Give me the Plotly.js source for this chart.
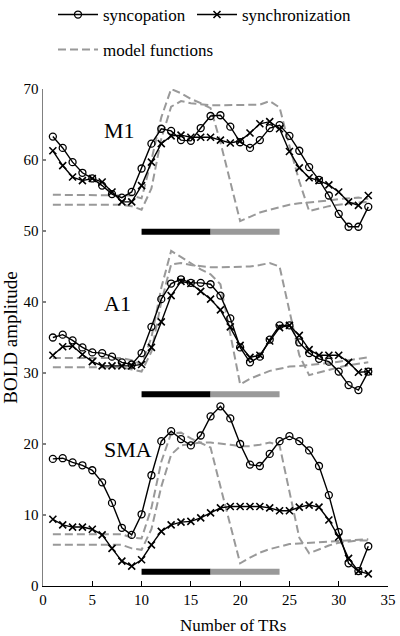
<!DOCTYPE html>
<html>
<head>
<meta charset="utf-8">
<script src="https://cdn.plot.ly/plotly-3.0.1.min.js"></script>
<style>
html,body{margin:0;padding:0;background:#fff;}
#chart{width:400px;height:636px;}
</style>
</head>
<body>
<div id="chart"></div>
<script>
// ---- data ----
const trs = [1,2,3,4,5,6,7,8,9,10,11,12,13,14,15,16,17,18,19,20,21,22,23,24,25,26,27,28,29,30,31,32,33];

const regionNames = ["M1", "A1", "SMA"];
const seriesNames = ["syncopation", "synchronization", "model functions"];
const blockEdges = [10, 17, 24];   // black block 10-17, gray block 17-24

const m1Syncopation = [63.3,61.7,59.7,58.2,57.4,56.4,55.2,54.7,55.5,58.8,62.3,64.4,64.1,62.8,62.7,64.5,66.2,66.3,64.7,62.5,61.7,62.8,64.5,64.9,63.4,61.3,59.0,57.2,55.0,52.4,50.6,50.6,53.4];
const m1Synchronization = [61.3,59.2,57.6,57.1,57.4,56.9,55.5,54.1,54.1,56.4,59.7,62.3,63.4,63.5,63.2,63.2,63.2,62.8,62.4,62.7,63.8,65.1,65.4,64.4,61.2,58.9,57.5,57.1,56.5,55.5,54.1,53.6,55.0];
const m1ModelFirstBlock = [55.1,55.1,55.1,55.1,55.1,55.1,55.1,55.1,55.0,54.6,60.0,66.0,70.0,69.4,68.6,68.0,67.3,62.5,57.0,51.4,52.0,52.6,53.0,53.4,53.7,53.9,54.0,54.2,54.3,54.5,54.6,54.7,54.5];
const m1ModelWholeBlock = [53.7,53.7,53.7,53.7,53.7,53.7,53.7,53.7,53.5,53.0,56.0,63.0,67.5,68.3,68.0,67.8,67.7,67.7,67.7,67.7,67.7,67.8,68.3,67.4,62.0,57.0,52.8,53.2,53.5,53.7,53.9,54.0,54.1];

const a1Syncopation = [35.0,35.4,34.6,33.6,32.9,32.8,32.3,31.5,31.2,32.8,36.5,40.4,42.6,43.2,42.7,42.7,42.5,40.9,37.7,33.6,31.5,32.3,34.7,36.7,36.7,34.3,32.8,32.0,31.6,30.2,28.3,27.6,30.2];
const a1Synchronization = [32.5,33.7,33.8,32.6,31.6,31.0,31.0,31.0,31.0,31.2,33.6,37.2,40.9,42.9,42.6,41.5,40.4,38.9,36.5,33.9,32.2,32.5,34.5,36.4,36.7,35.3,33.3,32.5,32.5,32.5,31.5,30.1,30.2];
const a1ModelFirstBlock = [32.1,32.1,32.1,32.1,32.1,32.1,32.1,32.1,31.8,31.2,35.0,42.0,47.2,46.3,45.4,44.6,43.9,42.5,35.5,28.4,29.2,29.8,30.3,30.6,30.9,31.0,31.1,31.2,31.4,31.6,31.8,32.0,32.2];
const a1ModelWholeBlock = [30.8,30.8,30.8,30.8,30.8,30.8,30.8,30.8,30.5,30.2,33.0,40.0,45.3,45.5,45.2,45.0,44.9,44.9,44.9,44.9,45.0,45.2,45.5,45.0,38.5,32.5,29.7,30.1,30.5,30.8,31.1,31.3,31.5];

const smaSyncopation = [17.9,18.0,17.4,17.0,16.3,14.6,11.7,8.2,7.2,10.1,15.6,20.4,21.8,20.7,19.8,21.2,23.9,25.3,23.6,20.0,17.1,16.9,18.6,20.4,21.1,20.4,19.1,16.9,12.8,7.6,3.2,2.1,5.6];
const smaSynchronization = [9.4,8.6,8.3,8.3,8.0,7.2,5.3,3.5,2.8,3.7,5.8,7.7,8.6,9.0,9.1,9.6,10.3,11.0,11.2,11.2,11.2,11.2,11.0,10.6,10.6,11.1,11.4,11.1,9.3,6.9,3.9,2.1,1.7];
const smaModelFirstBlock = [7.3,7.3,7.3,7.3,7.3,7.3,7.3,7.3,6.8,6.7,11.0,17.5,21.5,21.6,20.8,20.2,19.5,14.0,8.5,3.2,4.0,4.7,5.2,5.6,5.9,6.0,6.1,6.2,6.3,6.4,6.5,6.6,6.6];
const smaModelWholeBlock = [5.8,5.8,5.8,5.8,5.8,5.8,5.8,5.8,5.3,5.1,8.0,14.0,18.5,19.8,20.0,20.2,20.2,20.1,19.9,19.7,19.7,19.9,20.2,19.8,13.5,6.8,4.6,5.2,5.7,6.1,6.3,6.4,6.4];

// ---- styling / layout configuration ----
const FONT = 'Liberation Serif';
const regions = [
  {name: regionNames[0], sync: m1Syncopation, synch: m1Synchronization, models: [m1ModelFirstBlock, m1ModelWholeBlock], barLevel: 49.9, labelY: 64.1},
  {name: regionNames[1], sync: a1Syncopation, synch: a1Synchronization, models: [a1ModelFirstBlock, a1ModelWholeBlock], barLevel: 27.0, labelY: 39.8},
  {name: regionNames[2], sync: smaSyncopation, synch: smaSynchronization, models: [smaModelFirstBlock, smaModelWholeBlock], barLevel: 2.0, labelY: 19.2}
];

const traces = [];
const annotations = [];
regions.forEach((r, ri) => {
  r.models.forEach((m, mi) => {
    traces.push({
      x: trs, y: m, type: 'scatter', mode: 'lines',
      name: seriesNames[2], legend: 'legend3',
      showlegend: ri === 0 && mi === 0,
      line: {color: '#999999', width: 2, dash: '8px,4px'},
      hoverinfo: 'skip'
    });
  });
  traces.push({
    x: [blockEdges[0], blockEdges[1]], y: [r.barLevel, r.barLevel],
    type: 'scatter', mode: 'lines', showlegend: false,
    line: {color: '#000000', width: 6}, hoverinfo: 'skip'
  });
  traces.push({
    x: [blockEdges[1], blockEdges[2]], y: [r.barLevel, r.barLevel],
    type: 'scatter', mode: 'lines', showlegend: false,
    line: {color: '#999999', width: 6}, hoverinfo: 'skip'
  });
  traces.push({
    x: trs, y: r.synch, type: 'scatter', mode: 'lines+markers',
    name: seriesNames[1], legend: 'legend2', showlegend: ri === 0,
    line: {color: '#000000', width: 1.4},
    marker: {symbol: 'x-thin-open', size: 7, color: '#000000', line: {color: '#000000', width: 1.6}},
    cliponaxis: false
  });
  traces.push({
    x: trs, y: r.sync, type: 'scatter', mode: 'lines+markers',
    name: seriesNames[0], legend: 'legend', showlegend: ri === 0,
    line: {color: '#000000', width: 1.4},
    marker: {symbol: 'circle-open', size: 7, color: '#000000', line: {color: '#000000', width: 1.3}},
    cliponaxis: false
  });
  annotations.push({
    x: 6, y: r.labelY, xref: 'x', yref: 'y', xanchor: 'left', yanchor: 'middle',
    text: r.name, showarrow: false, font: {family: FONT, size: 22, color: '#000'}
  });
});

annotations.push({
  x: (233 - 43) / 345, y: (586 - 625) / 497, xref: 'paper', yref: 'paper',
  text: 'Number of TRs', showarrow: false, xanchor: 'center', yanchor: 'middle',
  font: {family: FONT, size: 17, color: '#000'}
});

function legendAt(px, py) {
  return {
    orientation: 'h', xref: 'container', yref: 'container',
    x: px / 400, y: 1 - py / 636,
    xanchor: 'left', yanchor: 'middle', bgcolor: 'rgba(0,0,0,0)', borderwidth: 0,
    font: {family: FONT, size: 17, color: '#000'}, itemwidth: 40
  };
}

const layout = {
  width: 400, height: 636,
  margin: {l: 43, r: 12, t: 89, b: 50, autoexpand: false},
  paper_bgcolor: '#ffffff', plot_bgcolor: '#ffffff',
  font: {family: FONT, size: 15, color: '#000'},
  showlegend: true,
  legend: legendAt(53, 15),
  legend2: legendAt(192, 15),
  legend3: legendAt(53, 50),
  xaxis: {
    range: [0, 35], tick0: 0, dtick: 5, ticks: 'inside', ticklen: 5, tickwidth: 1,
    tickcolor: '#000', showline: true, linecolor: '#000', linewidth: 1.2,
    showgrid: false, zeroline: false, tickfont: {family: FONT, size: 15, color: '#000'}
  },
  yaxis: {
    range: [0, 70], tick0: 0, dtick: 10, ticks: 'inside', ticklen: 3, tickwidth: 1.2,
    tickcolor: '#808080', showline: true, linecolor: '#808080', linewidth: 1.5,
    showgrid: false, zeroline: false, tickfont: {family: FONT, size: 15, color: '#000'},
    title: {text: 'BOLD amplitude', font: {family: FONT, size: 19, color: '#000'}, standoff: 6}
  },
  annotations: annotations
};

Plotly.newPlot('chart', traces, layout, {displayModeBar: false, staticPlot: true});
</script>
</body>
</html>
